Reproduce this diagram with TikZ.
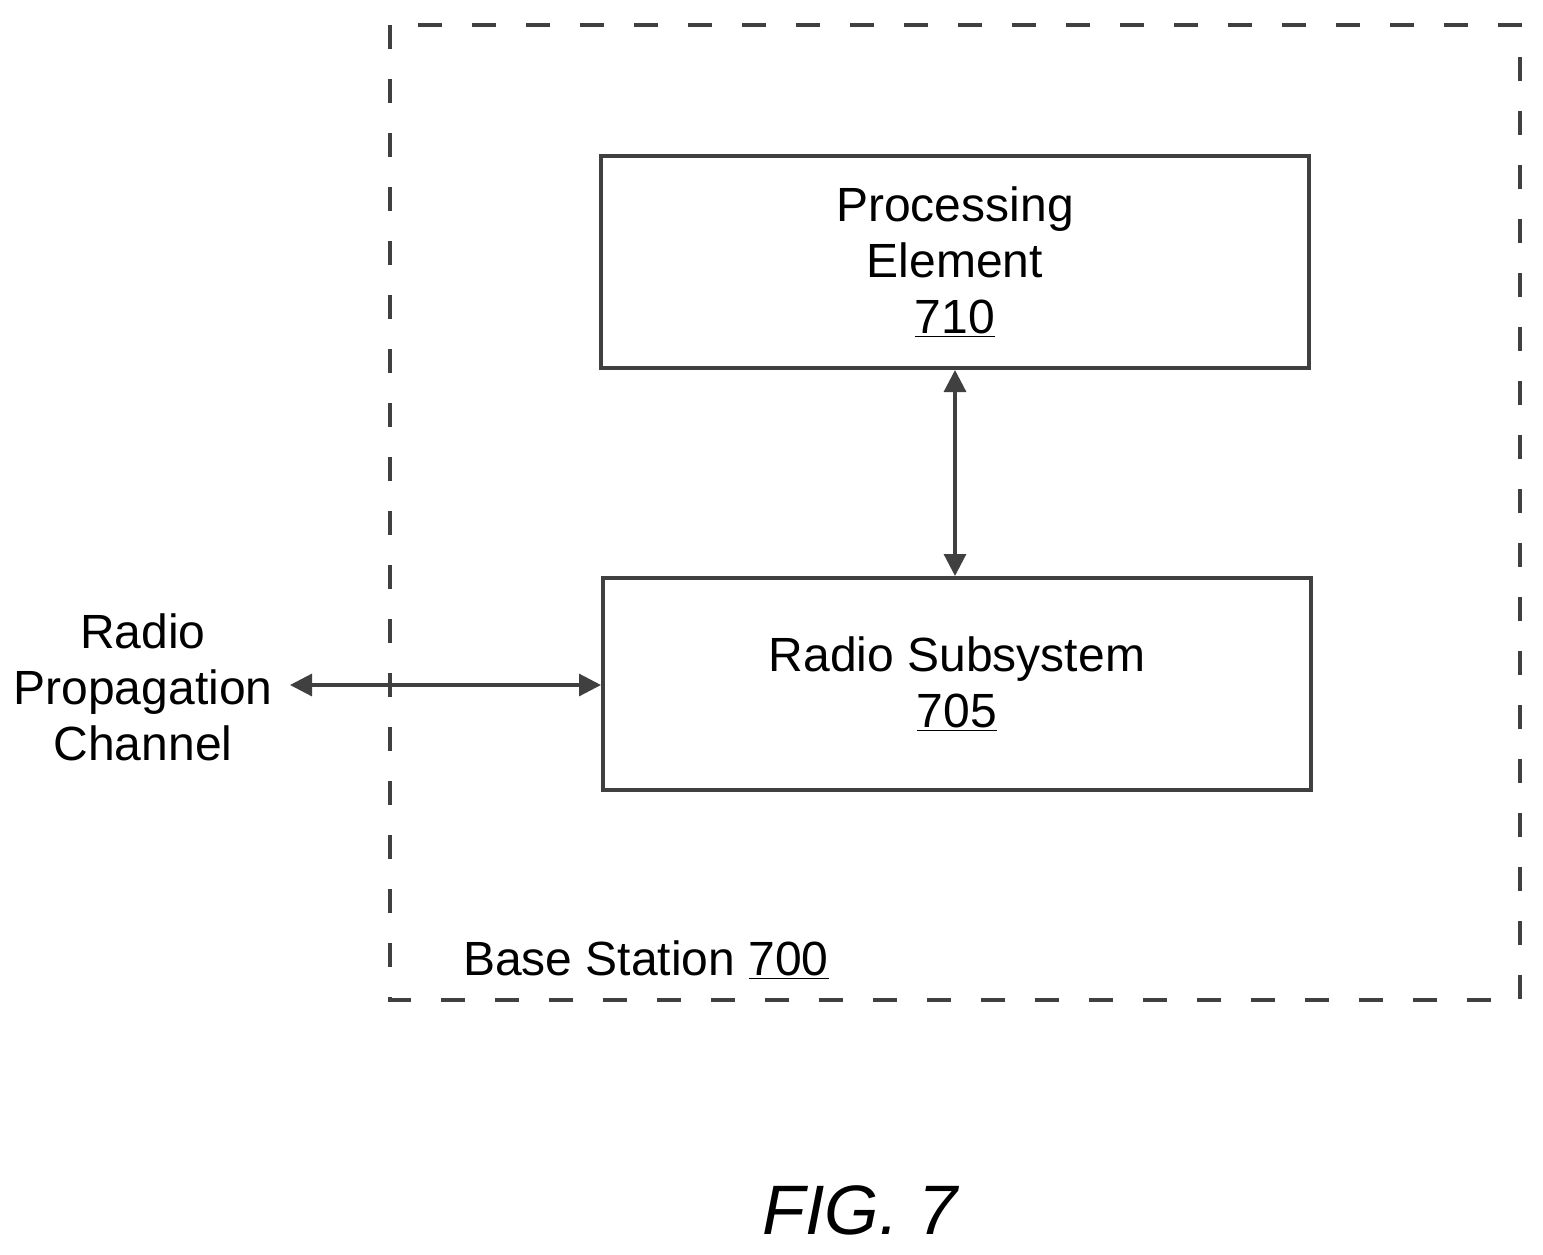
\documentclass[tikz,border=0pt]{standalone}
\usepackage{fontspec}
\setmainfont{Liberation Sans}
\usetikzlibrary{arrows.meta}
\begin{document}
\begin{tikzpicture}[x=0.5pt,y=-0.5pt,
  blk/.style={draw=black!75,line width=2pt,minimum width=354pt,minimum height=106pt,align=center,font=\fontsize{24}{28}\selectfont,inner sep=0pt},
  conn/.style={draw=black!75,line width=1.6pt,{Triangle[length=11pt,width=11pt]}-{Triangle[length=11pt,width=11pt]}},
  lbl/.style={font=\fontsize{24}{28}\selectfont,align=center}]
\useasboundingbox (0,0) rectangle (1543,1254);
\draw[black!75,line width=2pt,dash pattern=on 12pt off 15pt] (390,25) rectangle (1520,1000);
\node[blk] (pe) at (955,262) {Processing\\Element\\\underline{710}};
\node[blk] (rs) at (957,684) {Radio Subsystem\\\underline{705}};
\node[lbl] (ch) at (143,687) {Radio\\Propagation\\Channel};
\node[lbl,anchor=west] (bs) at (456,960) {Base Station \underline{700}};
\node[font=\fontsize{35}{40}\selectfont\itshape] (fig) at (860,1210) {FIG. 7};
\draw[conn] (pe.south) -- (pe.south |- rs.north);
\coordinate (ce) at (290,685);
\draw[conn] (ce) -- (rs.west |- ce);
\end{tikzpicture}
\end{document}
